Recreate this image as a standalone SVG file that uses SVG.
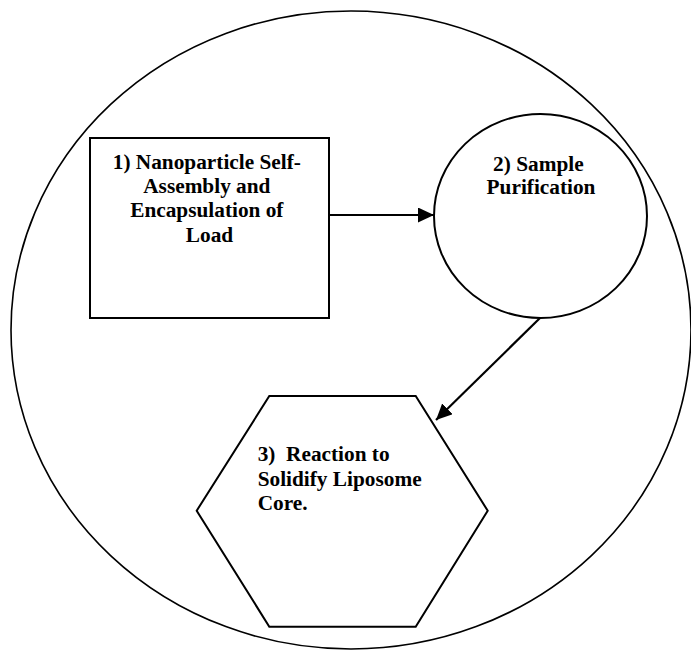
<svg xmlns="http://www.w3.org/2000/svg" width="691" height="650" viewBox="0 0 691 650">
<defs>
<style>
.shape{fill:#fff;stroke:#000;stroke-width:2}
.outer{fill:none;stroke:#000;stroke-width:1.6}
.lbl{font-family:"Liberation Serif","Times New Roman",serif;font-weight:bold;font-size:21.3px;fill:#000}
.conn{stroke:#000;stroke-width:2.2;fill:none}
</style>
<marker id="ah" markerWidth="8" markerHeight="8" refX="7" refY="4" orient="auto" markerUnits="userSpaceOnUse" viewBox="0 0 8 8">
<path d="M0,0 L8,4 L0,8 z" fill="#000"/>
</marker>
<marker id="ah2" markerWidth="16" markerHeight="15" refX="16" refY="7.5" orient="auto" markerUnits="userSpaceOnUse">
<path d="M0,0 L16,7.5 L0,15 z" fill="#000"/>
</marker>
</defs>
<g id="outer">
<ellipse class="outer" cx="351" cy="330" rx="340" ry="319"/>
</g>
<g id="node1">
<rect class="shape" x="90" y="138" width="239" height="180"/>
<text class="lbl" text-anchor="middle">
<tspan x="209.5" y="169">1) Nanoparticle Self-</tspan>
<tspan x="209.5" y="193">Assembly and</tspan>
<tspan x="209.5" y="217">Encapsulation of</tspan>
<tspan x="209.5" y="242">Load</tspan>
</text>
</g>
<g id="node2">
<ellipse class="shape" cx="540.5" cy="216" rx="106.5" ry="102"/>
<text class="lbl" text-anchor="middle">
<tspan x="541" y="171">2) Sample</tspan>
<tspan x="541" y="194">Purification</tspan>
</text>
</g>
<g id="node3">
<polygon class="shape" points="269.3,396 415.7,396 487.7,510.7 415.7,626.7 269.3,626.7 196.7,510.7"/>
<text class="lbl" xml:space="preserve" style="white-space:pre"><tspan x="257.7" y="461">3)  Reaction to</tspan><tspan x="257.7" y="486">Solidify Liposome</tspan><tspan x="257.7" y="510">Core.</tspan></text>
</g>
<g id="connectors">
<line class="conn" x1="329" y1="215" x2="434" y2="215" marker-end="url(#ah2)"/>
<line class="conn" x1="540" y1="318" x2="436" y2="420" marker-end="url(#ah2)"/>
</g>
</svg>
